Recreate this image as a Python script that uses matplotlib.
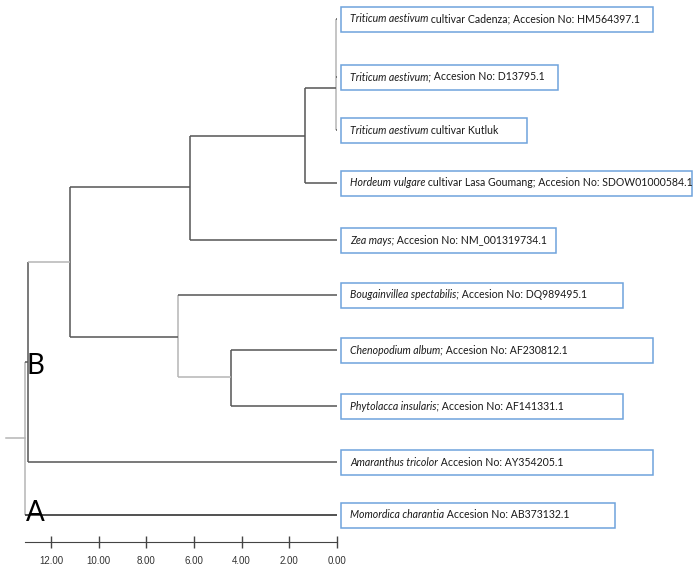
import matplotlib.pyplot as plt
from matplotlib.patches import Rectangle

plt.rcParams['font.family'] = ['Lato', 'DejaVu Sans']

# leaf labels (italic part, plain part) and their vertical positions
italic_names = ['Triticum aestivum', 'Triticum aestivum;', 'Triticum aestivum',
                'Hordeum vulgare', 'Zea mays;', 'Bougainvillea spectabilis;',
                'Chenopodium album;', 'Phytolacca insularis;',
                'Amaranthus tricolor', 'Momordica charantia']
plain_names = [' cultivar Cadenza; Accesion No: HM564397.1',
               ' Accesion No: D13795.1',
               ' cultivar Kutluk',
               ' cultivar Lasa Goumang; Accesion No: SDOW01000584.1',
               ' Accesion No: NM_001319734.1',
               ' Accesion No: DQ989495.1',
               ' Accesion No: AF230812.1',
               ' Accesion No: AF141331.1',
               ' Accesion No: AY354205.1',
               ' Accesion No: AB373132.1']
leaf_y = [19, 77, 130, 183, 240, 295, 350, 406, 462, 515]
box_width = [13.1, 9.1, 7.8, 14.75, 9.05, 11.85, 13.1, 11.85, 13.1, 11.5]

# internal nodes: name -> (height, children, y where parent stem attaches)
nodes = {
    'T':    (0.05, ['L0', 'L1', 'L2'], 88),
    'TH':   (1.33, ['T', 'L3'], 136),
    'THZ':  (6.16, ['TH', 'L4'], 187),
    'CP':   (4.44, ['L6', 'L7'], 377),
    'BCP':  (6.67, ['L5', 'CP'], 337),
    'MD':   (11.2, ['THZ', 'BCP'], 262),
    'MDA':  (12.97, ['MD', 'L8'], 362),
    'ROOT': (13.1, ['MDA', 'L9'], 438),
}
root_stub = 13.89
light_nodes = ['T', 'BCP', 'ROOT']
light_stems = ['CP', 'MD']

ticks = [12, 10, 8, 6, 4, 2, 0]
tick_labels = ['12.00', '10.00', '8.00', '6.00', '4.00', '2.00', '0.00']

fig = plt.figure(figsize=(6.94, 5.66), dpi=100)
ax = fig.add_axes([0, 0, 1, 1])
ax.set_xlim(14.15, -15.01)
ax.set_ylim(566, 0)

dark = '#555555'
light = '#b5b5b5'


def pos(name):
    if name.startswith('L'):
        i = int(name[1:])
        return 0.0, leaf_y[i]
    return nodes[name][0], nodes[name][2]


for name, (h, children, y) in nodes.items():
    ys = [pos(c)[1] for c in children]
    vc = light if name in light_nodes else dark
    ax.plot([h, h], [min(ys), max(ys)], color=vc, lw=1.1, solid_capstyle='butt')
    for c in children:
        ch, cy = pos(c)
        if ch == h:
            continue
        hc = light if c in light_stems else dark
        if c == 'L9':
            hc = '#222222'
        ax.plot([h, ch], [cy, cy], color=hc, lw=1.1, solid_capstyle='butt')

ax.plot([root_stub, nodes['ROOT'][0]], [nodes['ROOT'][2]] * 2, color=light, lw=1.1)

# label boxes
for i in range(len(leaf_y)):
    ax.add_patch(Rectangle((-0.18, leaf_y[i] - 12.5), -box_width[i], 25,
                           fill=False, edgecolor='#6fa3dc', lw=1.1))
    base = leaf_y[i] + 3.5
    t = ax.text(-0.55, base, italic_names[i], fontsize=7.6, style='italic',
                va='baseline', ha='left', color='#1a1a1a')
    ax.annotate(plain_names[i], xy=(1, base), xycoords=(t, 'data'),
                va='baseline', ha='left', fontsize=7.6, color='#1a1a1a')

ax.text(13.05, 366, 'B', fontsize=20, va='center', ha='left', color='black')
ax.text(13.05, 513, 'A', fontsize=20, va='center', ha='left', color='black')

# scale axis
for s in ['top', 'right', 'left']:
    ax.spines[s].set_visible(False)
ax.spines['bottom'].set_position(('data', 542))
ax.spines['bottom'].set_bounds(0, 13.1)
ax.spines['bottom'].set_color('#444444')
ax.set_yticks([])
ax.set_xticks(ticks)
ax.set_xticklabels(tick_labels, family=['Liberation Sans', 'DejaVu Sans'])
ax.tick_params(axis='x', direction='inout', length=8, width=1, colors='#444444',
               labelcolor='#333333', labelsize=7, pad=6)

fig.savefig('out.png', dpi=100)
